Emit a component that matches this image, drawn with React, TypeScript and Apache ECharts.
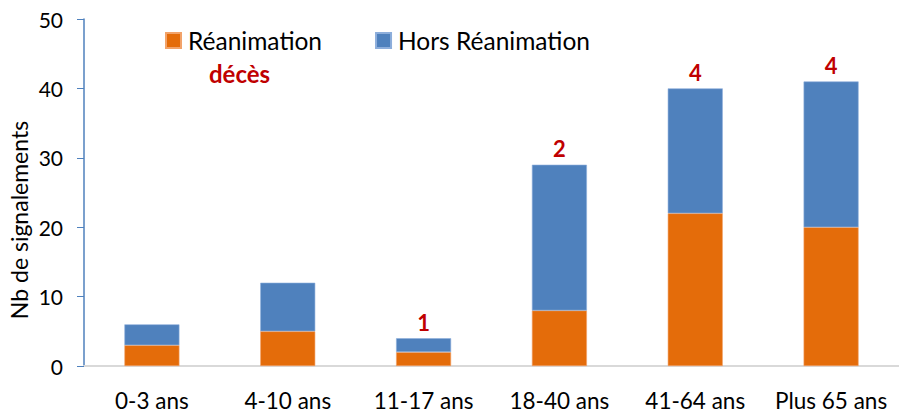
import React, { useEffect, useRef } from "react";
import * as echarts from "echarts";

const categories = ["0-3 ans", "4-10 ans", "11-17 ans", "18-40 ans", "41-64 ans", "Plus 65 ans"];
const reanimation = [3, 5, 2, 8, 22, 20];
const horsReanimation = [3, 7, 2, 21, 18, 21];
const deces = ["", "", "1", "2", "4", "4"];
const yTicks = { min: 0, max: 50, interval: 10 };

const FONT = "Lato";
const ORANGE = "#E46C0A";
const BLUE = "#4F81BD";
const RED = "#C00000";

export default function App() {
  const ref = useRef<HTMLDivElement>(null);
  useEffect(() => {
    if (!ref.current) return;
    const chart = echarts.init(ref.current, undefined, { renderer: "svg" });
    chart.setOption({
      animation: false,
      textStyle: { fontFamily: FONT },
      grid: { left: 84, top: 19, width: 819, bottom: 47, containLabel: false },
      legend: {
        left: 165,
        top: 28,
        padding: 0,
        itemWidth: 15,
        itemHeight: 15,
        itemGap: 53,
        icon: "rect",
        textStyle: { fontFamily: FONT, fontSize: 24.5, color: "#000", padding: [0, 0, 0, 2] },
        data: ["Réanimation", "Hors Réanimation"],
      },
      xAxis: {
        type: "category",
        data: categories,
        axisTick: { show: false },
        axisLine: { lineStyle: { color: "#D9D9D9", width: 2 } },
        axisLabel: { fontFamily: FONT, fontSize: 22.5, color: "#000", margin: 23, interval: 0, hideOverlap: false },
      },
      yAxis: {
        type: "value",
        min: yTicks.min,
        max: yTicks.max,
        interval: yTicks.interval,
        splitLine: { show: false },
        axisLine: { show: true, lineStyle: { color: BLUE, width: 1.5 } },
        axisTick: { show: true, length: 7, inside: false, lineStyle: { color: BLUE } },
        axisLabel: { fontFamily: FONT, fontSize: 21, color: "#000", margin: 21 },
      },
      series: [
        {
          name: "Réanimation",
          type: "bar",
          stack: "total",
          data: reanimation,
          barWidth: 55,
          itemStyle: { color: ORANGE, borderColor: "#F2A36A", borderWidth: 0.6 },
        },
        {
          name: "Hors Réanimation",
          type: "bar",
          stack: "total",
          data: horsReanimation,
          barWidth: 55,
          itemStyle: { color: BLUE, borderColor: "#8DAEDB", borderWidth: 0.6 },
          label: {
            show: true,
            position: "top",
            distance: 5,
            formatter: (p: any) => deces[p.dataIndex],
            color: RED,
            fontWeight: "bold",
            fontFamily: FONT,
            fontSize: 22,
          },
        },
      ],
      graphic: [
        {
          type: "text",
          left: 209,
          top: 61,
          style: { text: "décès", fill: RED, font: `bold 24px ${FONT}` },
        },
        {
          type: "text",
          x: 19,
          y: 220,
          rotation: Math.PI / 2,
          style: {
            text: "Nb de signalements",
            fill: "#000",
            font: `23px ${FONT}`,
            textAlign: "center",
            textVerticalAlign: "middle",
          },
        },
      ],
    });
    return () => chart.dispose();
  }, []);
  return <div ref={ref} style={{ width: 899, height: 413, position: "absolute", left: 0, top: 0 }} />;
}
